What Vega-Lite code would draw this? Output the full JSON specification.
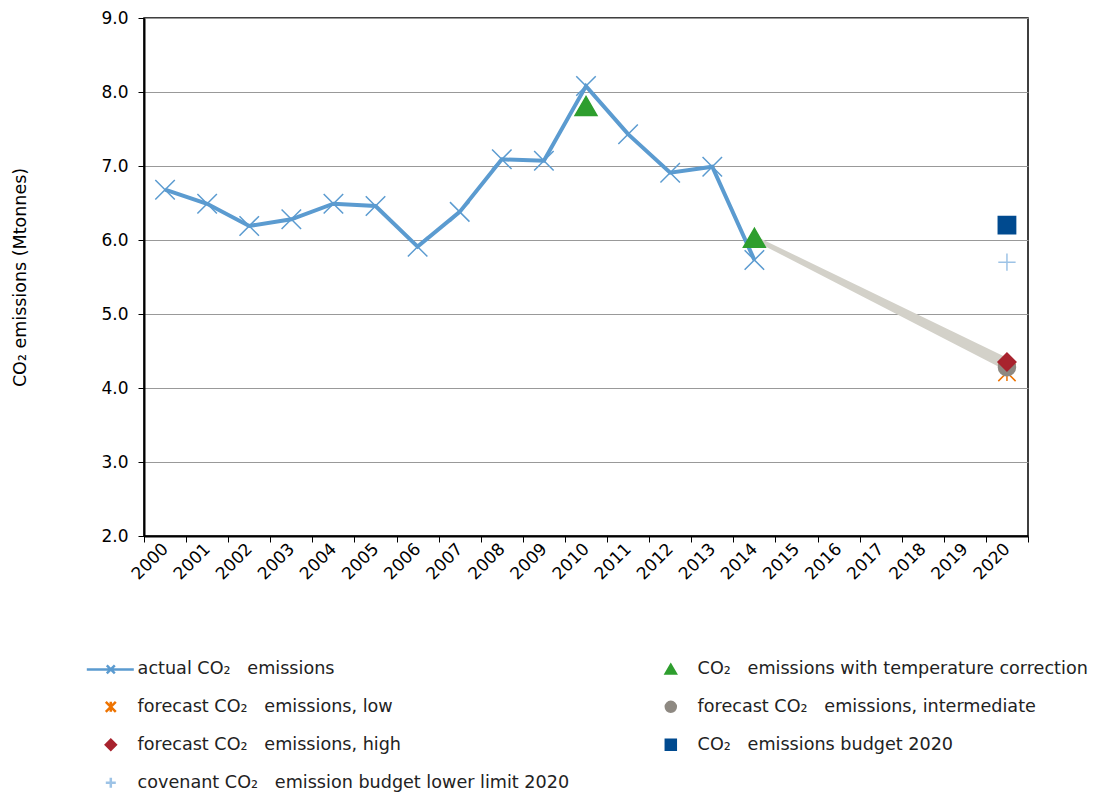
{
  "$schema": "https://vega.github.io/schema/vega-lite/v6.json",
  "width": 884,
  "height": 518,
  "autosize": {"type": "none"},
  "padding": {"left": 144, "top": 18, "right": 69, "bottom": 258},
  "background": "white",
  "config": {
    "view": {"stroke": "black", "strokeWidth": 1.5},
    "font": "DejaVu Sans",
    "axis": {"labelFont": "DejaVu Sans", "titleFont": "DejaVu Sans", "labelColor": "black", "titleColor": "black"}
  },
  "datasets": {
    "actual": [
      {"year": 2000, "value": 6.68}, {"year": 2001, "value": 6.49}, {"year": 2002, "value": 6.19},
      {"year": 2003, "value": 6.28}, {"year": 2004, "value": 6.49}, {"year": 2005, "value": 6.46},
      {"year": 2006, "value": 5.91}, {"year": 2007, "value": 6.38}, {"year": 2008, "value": 7.09},
      {"year": 2009, "value": 7.07}, {"year": 2010, "value": 8.08}, {"year": 2011, "value": 7.43},
      {"year": 2012, "value": 6.91}, {"year": 2013, "value": 6.99}, {"year": 2014, "value": 5.73}
    ],
    "trend": [
      {"year": 2014, "lo": 5.99, "hi": 6.06},
      {"year": 2020, "lo": 4.23, "hi": 4.41}
    ],
    "points": [
      {"year": 2010, "value": 7.81, "series": "CO\u2082\u00a0\u00a0 emissions with temperature correction"},
      {"year": 2014, "value": 6.03, "series": "CO\u2082\u00a0\u00a0 emissions with temperature correction"},
      {"year": 2020, "value": 4.21, "series": "forecast CO\u2082\u00a0\u00a0 emissions, low"},
      {"year": 2020, "value": 4.28, "series": "forecast CO\u2082\u00a0\u00a0 emissions, intermediate"},
      {"year": 2020, "value": 4.35, "series": "forecast CO\u2082\u00a0\u00a0 emissions, high"},
      {"year": 2020, "value": 6.20, "series": "CO\u2082\u00a0\u00a0 emissions budget 2020"},
      {"year": 2020, "value": 5.70, "series": "covenant CO\u2082\u00a0\u00a0 emission budget lower limit 2020"}
    ]
  },
  "encoding": {
    "x": {
      "field": "year", "type": "ordinal",
      "scale": {"domain": [2000,2001,2002,2003,2004,2005,2006,2007,2008,2009,2010,2011,2012,2013,2014,2015,2016,2017,2018,2019,2020], "paddingInner": 0, "paddingOuter": 0},
      "axis": {"title": null, "labelAngle": -45, "labelAlign": "right", "labelBaseline": "middle", "labelFontSize": 17, "labelPadding": 4, "tickBand": "extent", "tickSize": 6, "tickColor": "black", "domainColor": "black", "domainWidth": 2, "grid": false}
    }
  },
  "layer": [
    {
      "data": {"name": "trend"},
      "mark": {"type": "area", "color": "#D3D1C9", "opacity": 1},
      "encoding": {
        "y": {"field": "hi", "type": "quantitative", "scale": {"domain": [2, 9], "nice": false, "zero": false},
          "axis": {"title": "CO\u2082 emissions (Mtonnes)", "titleFontSize": 17.5, "titleFontWeight": "normal", "titleX": -124, "titleY": 259, "titleAngle": -90, "titleAlign": "center", "titleBaseline": "middle", "values": [2,3,4,5,6,7,8,9], "format": ".1f", "labelFontSize": 17, "labelPadding": 10, "tickSize": 6, "tickColor": "black", "domainColor": "black", "domainWidth": 2, "grid": true, "gridColor": "#999999", "gridWidth": 1}},
        "y2": {"field": "lo"}
      }
    },
    {
      "data": {"name": "actual"},
      "mark": {"type": "line", "color": "#5B9BD0", "strokeWidth": 4},
      "encoding": {"y": {"field": "value", "type": "quantitative"}}
    },
    {
      "data": {"name": "actual"},
      "mark": {"type": "point", "shape": "M-1,-1L1,1M-1,1L1,-1", "size": 380, "stroke": "#5B9BD0", "fill": null, "strokeWidth": 1.5, "opacity": 1, "filled": false},
      "encoding": {"y": {"field": "value", "type": "quantitative"}}
    },
    {
      "data": {"name": "points"},
      "mark": {"type": "point", "strokeWidth": 1.5, "opacity": 1},
      "encoding": {
        "y": {"field": "value", "type": "quantitative"},
        "shape": {"field": "series", "type": "nominal",
          "scale": {"domain": ["actual CO\u2082\u00a0\u00a0 emissions", "CO\u2082\u00a0\u00a0 emissions with temperature correction", "forecast CO\u2082\u00a0\u00a0 emissions, low", "forecast CO\u2082\u00a0\u00a0 emissions, intermediate", "forecast CO\u2082\u00a0\u00a0 emissions, high", "CO\u2082\u00a0\u00a0 emissions budget 2020", "covenant CO\u2082\u00a0\u00a0 emission budget lower limit 2020"],
            "range": ["M-4.8,0H4.6M-0.8,-0.8L0.8,0.8M-0.8,0.8L0.8,-0.8", "triangle-up", "M-1,-1L1,1M-1,1L1,-1M0,-1L0,1", "circle", "diamond", "square", "M-1,0H1M0,-1V1"]},
          "legend": {"title": null, "orient": "none", "direction": "horizontal", "legendX": -42, "legendY": 642, "columns": 2, "columnPadding": 90, "rowPadding": 17, "symbolSize": 100, "symbolStrokeWidth": 2.5, "labelFontSize": 17.6, "labelFont": "DejaVu Sans", "labelColor": "#222222", "labelOffset": 18, "labelLimit": 600, "padding": 0, "symbolOpacity": 1}},
        "fill": {"field": "series", "type": "nominal",
          "scale": {"domain": ["actual CO\u2082\u00a0\u00a0 emissions", "CO\u2082\u00a0\u00a0 emissions with temperature correction", "forecast CO\u2082\u00a0\u00a0 emissions, low", "forecast CO\u2082\u00a0\u00a0 emissions, intermediate", "forecast CO\u2082\u00a0\u00a0 emissions, high", "CO\u2082\u00a0\u00a0 emissions budget 2020", "covenant CO\u2082\u00a0\u00a0 emission budget lower limit 2020"],
            "range": ["transparent", "#2E9E2E", "transparent", "#8E8982", "#A8232E", "#004A8F", "transparent"]}},
        "stroke": {"field": "series", "type": "nominal",
          "scale": {"domain": ["actual CO\u2082\u00a0\u00a0 emissions", "CO\u2082\u00a0\u00a0 emissions with temperature correction", "forecast CO\u2082\u00a0\u00a0 emissions, low", "forecast CO\u2082\u00a0\u00a0 emissions, intermediate", "forecast CO\u2082\u00a0\u00a0 emissions, high", "CO\u2082\u00a0\u00a0 emissions budget 2020", "covenant CO\u2082\u00a0\u00a0 emission budget lower limit 2020"],
            "range": ["#5B9BD0", "#2E9E2E", "#EE7300", "#8E8982", "#A8232E", "#004A8F", "#9DC3E6"]}},
        "size": {
          "condition": [
            {"test": "indexof(datum.series, 'temperature') >= 0", "value": 480},
            {"test": "indexof(datum.series, 'low') >= 0", "value": 300},
            {"test": "indexof(datum.series, 'intermediate') >= 0", "value": 290},
            {"test": "indexof(datum.series, 'high') >= 0", "value": 320},
            {"test": "indexof(datum.series, 'lower limit') >= 0", "value": 230}
          ],
          "value": 300
        }
      }
    }
  ]
}
